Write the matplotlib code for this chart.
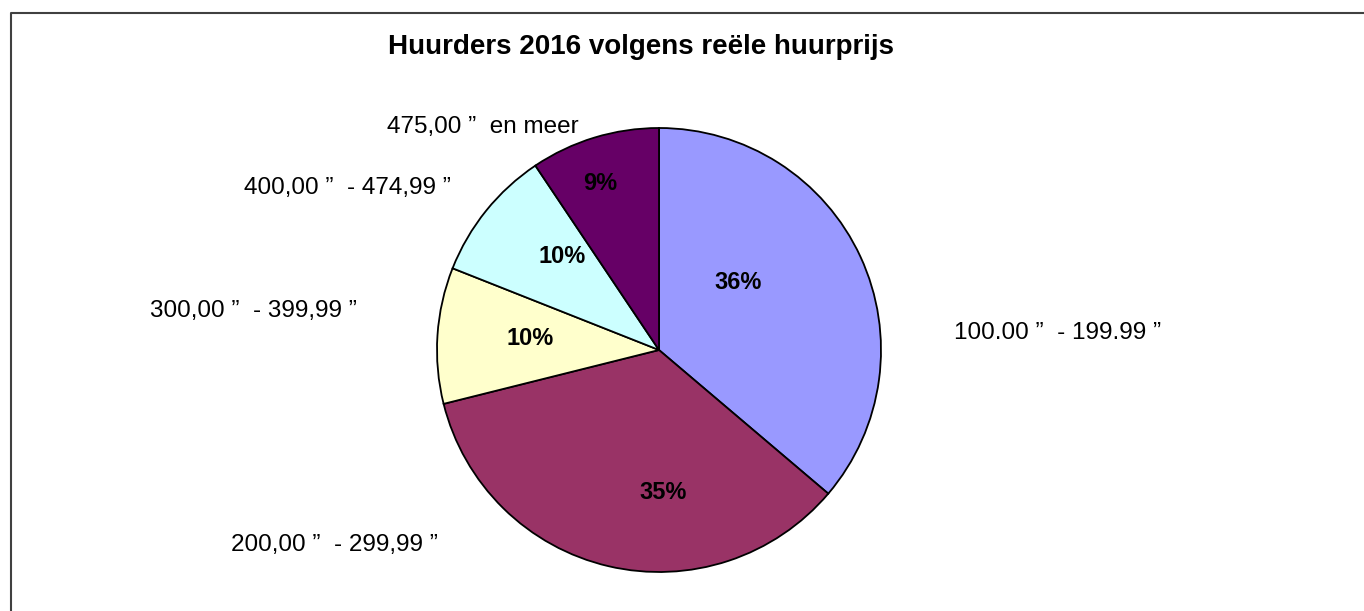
import matplotlib
matplotlib.use("Agg")
import matplotlib.pyplot as plt
import numpy as np

plt.rcParams['font.family'] = ['Liberation Sans', 'DejaVu Sans']

categories = ['100.00 ”  - 199.99 ”', '200,00 ”  - 299,99 ”', '300,00 ”  - 399,99 ”',
              '400,00 ”  - 474,99 ”', '475,00 ”  en meer']
shares = [36.2, 34.9, 9.9, 9.6, 9.4]
colors = ['#9999FF', '#993366', '#FFFFCC', '#CCFFFF', '#660066']

W, H = 1364, 611
fig = plt.figure(figsize=(W / 100, H / 100), dpi=100)
ax = fig.add_axes([0, 0, 1, 1])

cx, cy, r = 659, H - 350, 222

wedges, texts, pcts = ax.pie(shares, colors=colors, startangle=90, counterclock=False,
                             center=(cx, cy), radius=r, frame=True,
                             autopct='%.0f%%', pctdistance=0.5,
                             wedgeprops=dict(edgecolor='black', linewidth=1.3),
                             textprops=dict(fontsize=17))
ax.set_xlim(0, W)
ax.set_ylim(0, H)
ax.axis('off')

# label positions relative to the pie centre, in radii
pct_pos = [(0.356, 0.302), (0.018, -0.644), (-0.581, 0.05), (-0.437, 0.423), (-0.266, 0.748)]
lab_pos = [(1.797, 0.077), (-1.464, -0.878), (-1.829, 0.176), (-1.405, 0.730), (-0.793, 1.005)]
for t, (dx, dy) in zip(pcts, pct_pos):
    t.set_position((cx + dx * r, cy + dy * r))
    t.set_fontweight('bold')
    t.set_ha('center')
    t.set_va('center')
for name, (dx, dy) in zip(categories, lab_pos):
    ax.text(cx + dx * r, cy + dy * r, name, ha='center', va='center', fontsize=17.5)

ax.text(641, H - 47, 'Huurders 2016 volgens reële huurprijs', ha='center', va='center',
        fontsize=20, fontweight='bold')

# chart area border (top and left edges visible)
ax.plot([11, 11, W], [0, H - 13, H - 13], color='#404040', lw=1.5, clip_on=False)

fig.savefig('out.png', dpi=100)
